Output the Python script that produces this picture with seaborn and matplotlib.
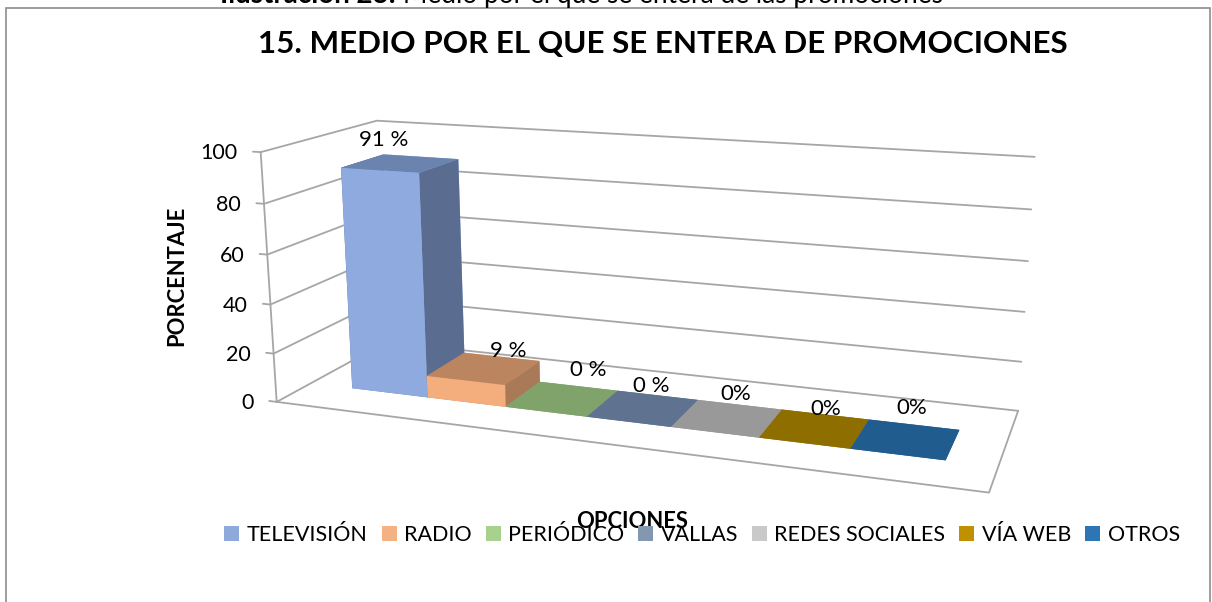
import numpy as np
import matplotlib
matplotlib.use("Agg")
import matplotlib.pyplot as plt
from matplotlib.patches import Patch, Rectangle
from mpl_toolkits.mplot3d import proj3d
import seaborn as sns

sns.set_theme(style="white")
plt.rcParams["font.family"] = ["Lato", "DejaVu Sans"]
plt.rcParams["text.color"] = "black"

# ── Data ─────────────────────────────────────────────────────────────────────
categories = ["TELEVISIÓN", "RADIO", "PERIÓDICO", "VALLAS", "REDES SOCIALES", "VÍA WEB", "OTROS"]
values = [91, 9, 0, 0, 0, 0, 0]
value_labels = ["91 %", "9 %", "0 %", "0 %", "0%", "0%", "0%"]
z_ticks = [0, 20, 40, 60, 80, 100]

legend_colors = sns.color_palette(["#8EAADB", "#F4B183", "#A9D18E", "#8497B0", "#C9C9C9", "#BF9000", "#2E75B6"])
front_colors = sns.color_palette(["#8EAADF", "#F4AE7E", "#A9D18E", "#8497B0", "#C9C9C9", "#BF9000", "#2E75B6"])
top_colors = sns.color_palette(["#6B84AF", "#BB8560", "#7FA36A", "#5F7390", "#999999", "#8F6E00", "#215C8F"])
side_colors = sns.color_palette(["#5A6D90", "#A87A58", "#6E8C5C", "#55677F", "#888888", "#7A5E00", "#1C4E79"])

grid_color = "#A6A6A6"
# nudges of the value labels away from the middle of each bar top, in pixels
label_nudges = [(-17, 23), (24, 17), (26, 29), (8, 22), (8, 24), (11, 19), (6, 31)]

# ── Figure and camera (fitted to the corners of the original) ────────────────
fig = plt.figure(figsize=(12.12, 6.02), dpi=100)
ax = fig.add_axes([0.20196, -0.13369, 0.64170, 1.29192], projection="3d")
ax.computed_zorder = False
x_min, x_max = -0.565, 7.535
ax.set_xlim(x_min, x_max)
ax.set_ylim(0, 1)
ax.set_zlim(0, 100)
ax.view_init(14.386, -70.274)
ax.set_box_aspect((1, 0.3177, 0.3598))
ax.set_proj_type("persp", focal_length=0.3577)
ax.set_axis_off()


def label_at(x, y, z, text, nudge, **kw):
    # flat text placed where the 3D point lands on the screen
    xs, ys, _ = proj3d.proj_transform(x, y, z, ax.get_proj())
    ax.annotate(text, xy=(xs, ys), xycoords="data", xytext=nudge, textcoords="offset pixels",
                annotation_clip=False, zorder=30, **kw)


# ── Walls and floor ──────────────────────────────────────────────────────────
line_kw = dict(color=grid_color, lw=1.3, zorder=1, clip_on=False)
for tick in z_ticks:
    ax.plot([x_min, x_min, x_max], [0, 1, 1], [tick, tick, tick], **line_kw)
    ax.plot([x_min - 0.1, x_min], [0, 0], [tick, tick], **line_kw)
    label_at(x_min, 0, tick, str(tick), (-23, -1), ha="right", va="center", fontsize=15.5)
ax.plot([x_min, x_min], [0, 0], [0, 100], **line_kw)
ax.plot([x_min, x_max, x_max], [0, 0, 1], [0, 0, 0], **line_kw)

# ── Bars ─────────────────────────────────────────────────────────────────────
y_front, y_depth = 0.285, 0.38
for i, val in enumerate(values):
    faces = [top_colors[i], top_colors[i], front_colors[i], front_colors[i], side_colors[i], side_colors[i]]
    ax.bar3d(i, y_front, 0, 1, y_depth, val, color=faces, shade=False, zorder=5 + i, edgecolor="none")
    label_at(i + 0.5, y_front + y_depth / 2, val, value_labels[i], label_nudges[i],
             ha="center", va="center", fontsize=16)

# ── Text around the plot ─────────────────────────────────────────────────────
fig.add_artist(Rectangle((6 / 1212, -0.1), 1204 / 1212, 1.1 - 8 / 602, transform=fig.transFigure,
                         fill=False, edgecolor="#8C8C8C", lw=1.2))
fig.text(220 / 1212, 1 - 3 / 602, "Ilustración 23:", fontsize=20, fontweight="bold", va="baseline")
fig.text(403 / 1212, 1 - 3 / 602, "Medio por el que se entera de las promociones", fontsize=18.9, va="baseline")
fig.text(663 / 1212, 1 - 44 / 602, "15. MEDIO POR EL QUE SE ENTERA DE PROMOCIONES",
         ha="center", va="center", fontsize=22.6, fontweight="bold")
fig.text(177 / 1212, 1 - 276 / 602, "PORCENTAJE", rotation=90, ha="center", va="center",
         fontsize=15.8, fontweight="bold")
fig.text(632 / 1212, 1 - 521 / 602, "OPCIONES", ha="center", va="center", fontsize=15.8, fontweight="bold")

handles = [Patch(facecolor=c, edgecolor="none") for c in legend_colors]
fig.legend(handles, categories, ncol=7, loc="center", bbox_to_anchor=(702 / 1212, 1 - 535 / 602),
           frameon=False, fontsize=15.5, handlelength=0.7, handleheight=0.7,
           handletextpad=0.35, columnspacing=0.64, borderpad=0)

fig.savefig("out.png", dpi=100)
plt.close()
